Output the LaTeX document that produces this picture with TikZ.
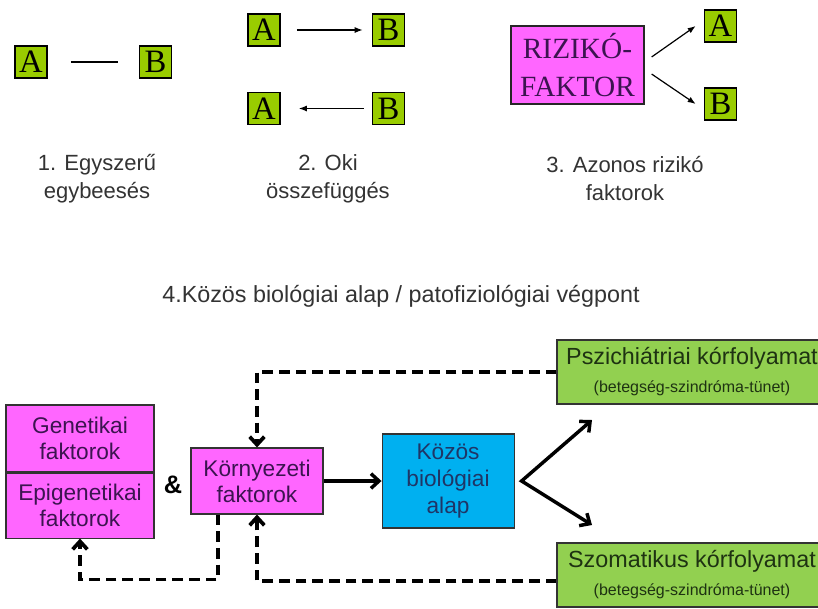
\documentclass[tikz,border=0pt]{standalone}
\usepackage{fontspec}
\setmainfont{Liberation Sans}
\newfontfamily\timesfont{Liberation Serif}
\usetikzlibrary{arrows.meta,positioning}

\definecolor{abgreen}{HTML}{99CC00}
\definecolor{pinkbox}{HTML}{FF66FF}
\definecolor{greenbox}{HTML}{92D050}
\definecolor{bluebox}{HTML}{00B0F0}
\definecolor{pinktext}{HTML}{3C1450}
\definecolor{bluetext}{HTML}{1F3566}
\definecolor{greentext}{HTML}{1E3212}

\begin{document}
\begin{tikzpicture}[
			x=0.75pt, y=-0.75pt,
			letter/.style={
				rectangle,
				draw=black,
				line width=1.2pt,
				fill=abgreen,
				minimum size=24pt,
				inner sep=0pt,
				font=\timesfont\fontsize{24.5}{24.5}\selectfont
			},
			riskbox/.style={
				rectangle,
				draw=black!85,
				line width=0.9pt,
				fill=pinkbox,
				text=pinktext,
				minimum width=99.75pt,
				minimum height=58.5pt,
				align=center,
				font=\timesfont\fontsize{22}{28.5}\selectfont
			},
			caption/.style={
				align=center,
				text=black!80,
				font=\fontsize{16.5}{21}\selectfont
			},
			factor/.style={
				rectangle,
				draw=black!80,
				line width=0.8pt,
				fill=pinkbox,
				text=pinktext,
				inner sep=1pt,
				align=center,
				font=\fontsize{17}{19.5}\selectfont
			},
			course/.style={
				rectangle,
				draw=black!80,
				line width=0.8pt,
				fill=greenbox,
				text=greentext,
				minimum width=202.5pt,
				minimum height=48pt,
				align=center,
				font=\fontsize{17.5}{20}\selectfont
			},
			thinarrow/.style={
				-{Latex[length=6pt,width=4.5pt]},
				line width=0.9pt
			},
			bigarrow/.style={
				-{Straight Barb[length=6pt,width=11pt]},
				line width=2.6pt
			},
			dasharrow/.style={
				-{Straight Barb[length=6pt,width=11pt]},
				line width=2.8pt,
				dash pattern=on 8pt off 4.5pt
			}
			]
			\useasboundingbox (0,0) rectangle (818,608);
			\clip (0,0) rectangle (818,608);

			% 1. egyszeru egybeeses
			\node[letter] (a1) at (31,62) {A};
			\node[letter] (b1) at (155.5,62) {B};
			\draw[line width=0.9pt, shorten <=17.25pt, shorten >=15.75pt] (a1) -- (b1);
			\node[caption] (cap1) at (97,179) {1. Egyszerű\\egybeesés};

			% 2. oki osszefugges
			\node[letter] (a2) at (264,30) {A};
			\node[letter] (b2) at (388.5,30) {B};
			\node[letter] (a3) at (264,108.5) {A};
			\node[letter] (b3) at (388.5,108.5) {B};
			\draw[thinarrow, shorten <=12pt, shorten >=6.75pt] (a2) -- (b2);
			\draw[thinarrow, shorten <=6pt, shorten >=13.5pt] (b3) -- (a3);
			\node[caption] (cap2) at (328,179) {2. Oki\\összefüggés};

			% 3. azonos riziko faktorok
			\node[riskbox] (rf) at (577.5,65) {RIZIKÓ-\\FAKTOR};
			\node[letter] (a4) at (720.5,26) {A};
			\node[letter] (b4) at (720.5,104) {B};
			\draw[thinarrow] ([xshift=5.25pt,yshift=6pt]rf.east) -- ([xshift=-6pt]a4.west);
			\draw[thinarrow] ([xshift=5.25pt,yshift=-6.75pt]rf.east) -- ([xshift=-6pt]b4.west);
			\node[caption] (cap3) at (625,179) {3. Azonos rizikó\\faktorok};

			% 4. kozos alap
			\node[caption, font=\fontsize{17.5}{21}\selectfont] (title) at (401,296) {4.Közös biológiai alap / patofiziológiai végpont};

			\node[factor, minimum width=111pt, minimum height=50.25pt] (gen) at (80,438.5) {Genetikai\\faktorok};
			\node[factor, minimum width=111pt, minimum height=48.75pt, below=0pt of gen] (epi) {Epigenetikai\\faktorok};
			\node[font=\bfseries\fontsize{19}{19}\selectfont] (amp) at (173,485) {\&};
			\node[factor, minimum width=99pt, minimum height=49.5pt] (korny) at (257,481) {Környezeti\\faktorok};
			\node[factor, fill=bluebox, text=bluetext, minimum width=99pt, minimum height=70.5pt,
				right=43.5pt of korny, font=\fontsize{17}{20}\selectfont] (kozos) {Közös\\biológiai\\alap};

			\node[course] (psz) at (692,372) {Pszichiátriai kórfolyamat\\[1pt]{\fontsize{12}{14}\selectfont (betegség-szindróma-tünet)}};
			\node[course] (szom) at (692,575) {Szomatikus kórfolyamat\\[1pt]{\fontsize{12}{14}\selectfont (betegség-szindróma-tünet)}};

			% nyilak
			\coordinate (fork) at ([xshift=5.25pt]kozos.east);
			\coordinate (pszend) at (592,420);
			\coordinate (szomend) at (592,525);
			\draw[bigarrow] (korny) -- (kozos);
			\draw[bigarrow, {Straight Barb[length=6pt,width=11pt]}-{Straight Barb[length=6pt,width=11pt]}] (pszend) -- (fork) -- (szomend);

			\draw[dasharrow] (psz.west) -| (korny.north);
			\draw[dasharrow] ([yshift=-4.5pt]szom.west) -| (korny.south);
			\draw[dasharrow] ([xshift=-29.25pt]korny.south) -- ++(0,65) -| (epi.south);
		\end{tikzpicture}
\end{document}
